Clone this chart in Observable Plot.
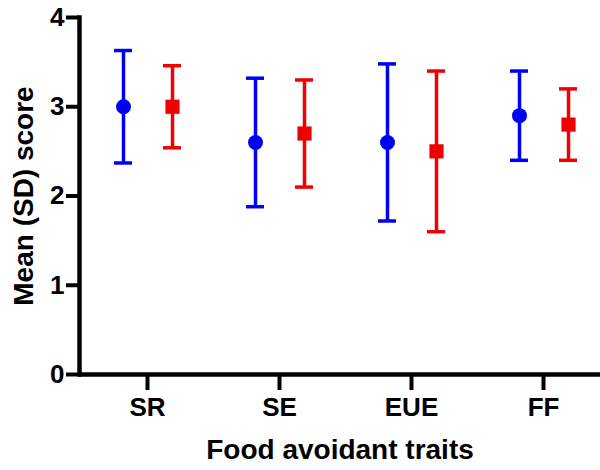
<!DOCTYPE html>
<html><head><meta charset="utf-8">
<script src="https://cdn.jsdelivr.net/npm/d3@7"></script>
<script src="https://cdn.jsdelivr.net/npm/@observablehq/plot@0.6"></script>
<style>
body{margin:0;background:#fff}
#chart svg{font-family:"Liberation Sans",Arial,sans-serif;font-weight:bold}
#chart g[aria-label="x-axis tick label"],#chart g[aria-label="y-axis tick label"]{font-size:26px;font-weight:bold}
#chart g[aria-label="x-axis label"],#chart g[aria-label="y-axis label"]{font-size:28px;font-weight:bold}
</style></head><body><div id="chart"></div>
<script>
const categories = ["SR", "SE", "EUE", "FF"];
const blueMean = [3.0, 2.6, 2.6, 2.9];
const blueSD = [0.63, 0.72, 0.88, 0.5];
const redMean = [3.0, 2.7, 2.5, 2.8];
const redSD = [0.46, 0.6, 0.9, 0.4];
const yTicks = [0, 1, 2, 3, 4];
const xTitle = "Food avoidant traits";
const yTitle = "Mean (SD) score";

const blueColor = "#0000f5";
const redColor = "#f00000";

const blue = categories.map((c, i) => ({cat: c, mean: blueMean[i], lo: blueMean[i] - blueSD[i], hi: blueMean[i] + blueSD[i]}));
const red = categories.map((c, i) => ({cat: c, mean: redMean[i], lo: redMean[i] - redSD[i], hi: redMean[i] + redSD[i]}));

function series(data, color, dx, symbol, r) {
  return [
    Plot.ruleX(data, {x: "cat", y1: "lo", y2: "hi", dx, stroke: color, strokeWidth: 3.5}),
    Plot.ruleY(data, {x1: "cat", x2: "cat", y: "lo", dx, stroke: color, strokeWidth: 3.5, insetLeft: -9, insetRight: -9}),
    Plot.ruleY(data, {x1: "cat", x2: "cat", y: "hi", dx, stroke: color, strokeWidth: 3.5, insetLeft: -9, insetRight: -9}),
    Plot.dot(data, {x: "cat", y: "mean", dx, fill: color, stroke: "none", symbol, r})
  ];
}

const chart = Plot.plot({
  width: 600,
  height: 470,
  marginTop: 17,
  marginBottom: 96,
  marginLeft: 79,
  marginRight: 0,
  style: {fontFamily: "'Liberation Sans', Arial, sans-serif", background: "#fff", color: "#000"},
  x: {type: "point", domain: categories, padding: 0.459, align: 0.54},
  y: {domain: [0, 4]},
  marks: [
    Plot.axisY(yTicks, {tickSize: 13, tickPadding: 2, strokeWidth: 4, fontSize: 26, fontWeight: "bold",
      tickFormat: d3.format("d"),
      label: yTitle, labelAnchor: "center", labelArrow: "none", labelOffset: 66}),
    Plot.axisX({tickSize: 16, tickPadding: 7, strokeWidth: 4, fontSize: 26, fontWeight: "bold",
      label: xTitle, labelAnchor: "center", labelArrow: "none", labelOffset: 84}),
    Plot.frame({anchor: "left", stroke: "#000", strokeWidth: 4.5}),
    Plot.ruleY([0], {stroke: "#000", strokeWidth: 4.5}),
    ...series(blue, blueColor, -24, "circle", 7.5),
    ...series(red, redColor, 25, "square", 8)
  ]
});
document.getElementById("chart").append(chart);
</script></body></html>
